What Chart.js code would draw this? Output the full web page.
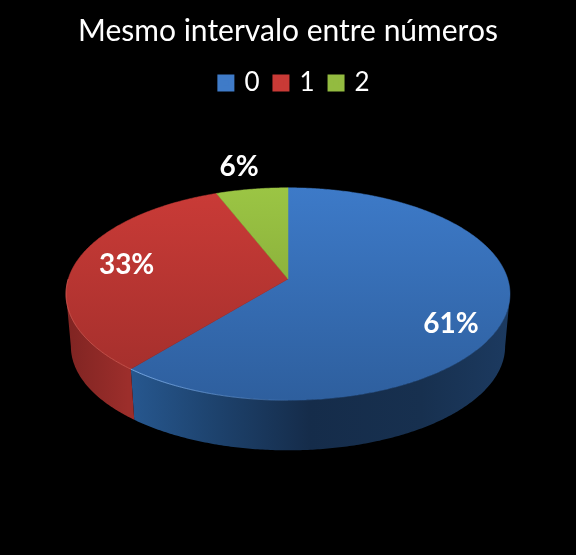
<!DOCTYPE html>
<html>
<head>
<meta charset="utf-8">
<style>html,body{margin:0;padding:0;background:#000}canvas{display:block}</style>
<script src="https://cdn.jsdelivr.net/npm/chart.js@4"></script>
</head>
<body>
<canvas id="c" width="576" height="555"></canvas>
<script>
const chartTitle = "Mesmo intervalo entre números";
const categories = ["0", "1", "2"];
const shares = [61, 33, 6];

const topLight = ["#3d7ac8", "#ca3b37", "#9bc544"];
const topDark  = ["#2e5f9e", "#a02e2b", "#7a9a32"];
const legendColors = ["#3f7bc8", "#c93a36", "#93bb40"];
const labelRadial = [0.75, 0.76, 1.35];
const labelShiftY = [17, -2, 9];

const apexY = 279;
const tilt = 0.469;
const persp = 0.1415;
const wallDrop = 52.7;
const baseScale = 0.978;
const discTop = 188;
const discBottom = 400;

function project(el, angle, scale, drop) {
  const u = Math.cos(angle), v = Math.sin(angle);
  const w = 1 - persp * v;
  const r = el.outerRadius;
  return {
    x: el.x + r * Math.sqrt(1 - persp * persp) * scale * u / w,
    y: apexY + drop + r * tilt * scale * v / w
  };
}
function rimPath(ctx, el, a, b, scale, drop, begin) {
  const n = Math.max(2, Math.ceil(Math.abs(b - a) / 0.01));
  for (let k = 0; k <= n; k++) {
    const p = project(el, a + (b - a) * k / n, scale, drop);
    if (begin && k === 0) ctx.moveTo(p.x, p.y); else ctx.lineTo(p.x, p.y);
  }
}

const pie3d = {
  id: "pie3d",
  afterLayout(chart) {
    chart.legend.left += 7;
    chart.legend.right += 7;
  },
  beforeDatasetDraw(chart) {
    const ctx = chart.ctx;
    const arcs = chart.getDatasetMeta(0).data;
    const el0 = arcs[0], r = el0.outerRadius, cx = el0.x;
    const widest = Math.asin(persp);
    ctx.save();

    // side wall, between the two widest points of the disc
    arcs.forEach((el, i) => {
      const a = Math.max(el.startAngle, widest);
      const b = Math.min(el.endAngle, Math.PI - widest);
      if (b <= a) return;
      const g = ctx.createLinearGradient(cx - r, 0, cx + r, 0);
      if (i === 0) {
        g.addColorStop(0.14, "#275890");
        g.addColorStop(0.32, "#1e4470");
        g.addColorStop(0.55, "#152c4a");
        g.addColorStop(0.8, "#17304f");
        g.addColorStop(1, "#1c3a60");
      } else {
        g.addColorStop(0, "#7f2422");
        g.addColorStop(0.14, "#9c2e2b");
        g.addColorStop(1, "#9c2e2b");
      }
      ctx.beginPath();
      rimPath(ctx, el, a, b, 1, 0, true);
      rimPath(ctx, el, b, a, baseScale, wallDrop, false);
      ctx.closePath();
      ctx.fillStyle = g;
      ctx.fill();
    });

    // top face
    arcs.forEach((el, i) => {
      const g = ctx.createLinearGradient(0, discTop, 0, discBottom);
      g.addColorStop(0, topLight[i]);
      g.addColorStop(1, topDark[i]);
      ctx.beginPath();
      ctx.moveTo(el.x, apexY);
      rimPath(ctx, el, el.startAngle, el.endAngle, 1, 0, false);
      ctx.closePath();
      ctx.fillStyle = g;
      ctx.strokeStyle = g;
      ctx.lineWidth = 0.5;
      ctx.fill();
      ctx.stroke();
    });

    // bevel line along the front rim
    const rim = ctx.createLinearGradient(cx - r, 0, cx + 20, 0);
    rim.addColorStop(0.3, "rgba(130,180,240,0.85)");
    rim.addColorStop(1, "rgba(130,180,240,0)");
    ctx.beginPath();
    rimPath(ctx, el0, Math.PI / 2, el0.endAngle, 1, 0, true);
    ctx.strokeStyle = rim;
    ctx.lineWidth = 1;
    ctx.stroke();
    ctx.beginPath();
    rimPath(ctx, arcs[1], arcs[1].startAngle, Math.PI, 1, 0, true);
    ctx.strokeStyle = "rgba(235,110,100,0.55)";
    ctx.stroke();

    // value labels
    const total = shares.reduce((s, v) => s + v, 0);
    ctx.font = "bold 28px Lato";
    ctx.fillStyle = "#fff";
    ctx.textAlign = "center";
    ctx.textBaseline = "middle";
    arcs.forEach((el, i) => {
      const mid = (el.startAngle + el.endAngle) / 2;
      const p = project(el, mid, labelRadial[i], labelShiftY[i]);
      ctx.fillText(Math.round(shares[i] / total * 100) + "%", p.x, p.y);
    });
    ctx.restore();
    return false;
  }
};

new Chart(document.getElementById("c"), {
  type: "pie",
  plugins: [pie3d],
  data: {
    labels: categories,
    datasets: [{ data: shares, borderWidth: 0, backgroundColor: legendColors }]
  },
  options: {
    responsive: false,
    devicePixelRatio: 1,
    animation: false,
    events: [],
    layout: { padding: { left: 66, right: 66, top: 0, bottom: 0 } },
    plugins: {
      tooltip: { enabled: false },
      title: {
        display: true,
        text: chartTitle,
        color: "#fff",
        font: { family: "Lato", size: 30, weight: "normal" },
        padding: { top: 13, bottom: 5 }
      },
      legend: {
        display: true,
        position: "top",
        labels: {
          color: "#fff",
          boxWidth: 11,
          boxHeight: 11,
          padding: 16,
          font: { family: "Lato", size: 26 },
          generateLabels() {
            return categories.map((t, i) => ({
              text: t, fillStyle: legendColors[i], strokeStyle: legendColors[i],
              lineWidth: 6, hidden: false, index: i, fontColor: "#fff"
            }));
          }
        }
      }
    }
  }
});
</script>
</body>
</html>
